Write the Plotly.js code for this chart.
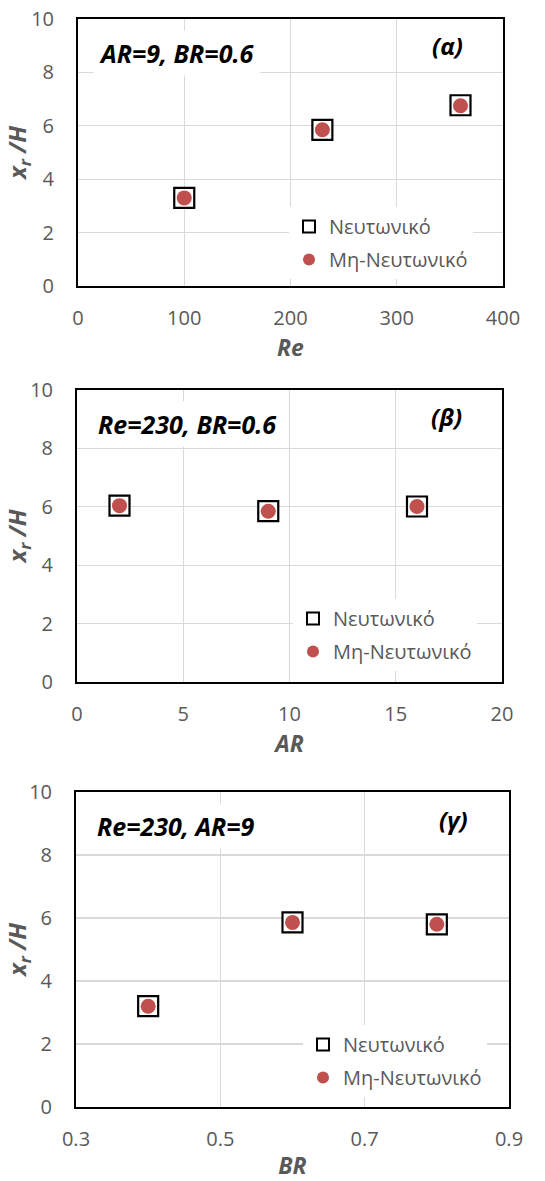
<!DOCTYPE html>
<html>
<head>
<meta charset="utf-8">
<script src="https://cdn.plot.ly/plotly-3.0.1.min.js"></script>
<style>html,body{margin:0;padding:0;background:#fff;}#chart{width:545px;height:1181px;}</style>
</head>
<body>
<div id="chart"></div>
<script>
// ---- data ----
const seriesNames = ["Νευτωνικό", "Μη-Νευτωνικό"];
const re = [100, 230, 360];
const xrReNewt = [3.3, 5.85, 6.77];
const xrReNonNewt = [3.3, 5.85, 6.75];
const ar = [2, 9, 16];
const xrArNewt = [6.04, 5.85, 6.01];
const xrArNonNewt = [6.04, 5.85, 6.01];
const br = [0.4, 0.6, 0.8];
const xrBrNewt = [3.2, 5.86, 5.8];
const xrBrNonNewt = [3.2, 5.86, 5.8];
const panelLabels = ["(α)", "(β)", "(γ)"];
const panelNotes = ["AR=9, BR=0.6", "Re=230, BR=0.6", "Re=230, AR=9"];
const xTitles = ["Re", "AR", "BR"];
const yTitle = "x<sub>r</sub> /H";

// ---- styles ----
const W = 545, H = 1181;
const FONT = "Open Sans, Noto Sans, DejaVu Sans, sans-serif";
const GREY = "#595959";
const RED = "#C0504D";
const px = v => v / W;
const py = v => 1 - v / H;

const panels = [
  {x: re, yN: xrReNewt, yM: xrReNonNewt, xr: [0, 400], dtick: 100, fmt: "",
   dom: [78, 503, 19, 286], leg: [289, 207]},
  {x: ar, yN: xrArNewt, yM: xrArNonNewt, xr: [0, 20], dtick: 5, fmt: "",
   dom: [77, 502, 390, 682], leg: [293, 599]},
  {x: br, yN: xrBrNewt, yM: xrBrNonNewt, xr: [0.3, 0.9], dtick: 0.2, fmt: ".1f",
   dom: [76, 509, 792, 1107], leg: [303, 1025]}
];

const traces = [];
const layout = {
  width: W, height: H,
  margin: {l: 0, r: 0, t: 0, b: 0},
  paper_bgcolor: "#fff", plot_bgcolor: "#fff",
  showlegend: true,
  annotations: []
};

panels.forEach((p, i) => {
  const n = i + 1;
  const xa = n === 1 ? "x" : "x" + n;
  const ya = n === 1 ? "y" : "y" + n;
  const legName = n === 1 ? "legend" : "legend" + n;
  traces.push({
    type: "scatter", mode: "markers", x: p.x, y: p.yN, name: seriesNames[0],
    xaxis: xa, yaxis: ya, legend: legName, legendgroup: "n" + n,
    marker: {symbol: "square", size: 20, color: "#fff", line: {color: "#000", width: 2.2}},
    cliponaxis: false
  });
  traces.push({
    type: "scatter", mode: "markers", x: p.x, y: p.yM, name: seriesNames[1],
    xaxis: xa, yaxis: ya, legend: legName, legendgroup: "m" + n,
    marker: {symbol: "circle", size: 15, color: RED, line: {width: 0}},
    cliponaxis: false
  });
  const axisCommon = {
    showline: true, linecolor: "#000", linewidth: 2, mirror: true,
    showgrid: true, gridcolor: "#D9D9D9", gridwidth: 1.3,
    zeroline: false, ticks: "", fixedrange: true,
    tickfont: {family: FONT, size: 20, color: GREY}
  };
  layout["xaxis" + (n === 1 ? "" : n)] = Object.assign({}, axisCommon, {
    domain: [px(p.dom[0]), px(p.dom[1])], anchor: ya,
    range: p.xr, dtick: p.dtick, tick0: p.xr[0], tickformat: p.fmt,
    ticklabelstandoff: 13,
    title: {text: "<b><i>" + xTitles[i] + "</i></b>", standoff: 8,
            font: {family: FONT, size: 23, color: GREY}}
  });
  layout["yaxis" + (n === 1 ? "" : n)] = Object.assign({}, axisCommon, {
    domain: [py(p.dom[3]), py(p.dom[2])], anchor: xa,
    range: [0, 10], dtick: 2,
    ticklabelstandoff: 18,
    title: {text: "<b><i>" + yTitle + "</i></b>", standoff: 0,
            font: {family: FONT, size: 24, color: GREY}}
  });
  layout[legName] = {
    x: px(p.leg[0]), y: py(p.leg[1]), xanchor: "left", yanchor: "top",
    bgcolor: "#fff", borderwidth: 0,
    font: {family: FONT, size: 20, color: GREY},
    traceorder: "grouped", tracegroupgap: 4, itemsizing: "constant"
  };
  layout.annotations.push({
    xref: "paper", yref: "paper", x: px(p.dom[0] + 15), y: py(p.dom[2] + 34),
    xanchor: "left", yanchor: "middle", showarrow: false,
    text: "<b><i>" + panelNotes[i] + "</i></b>",
    font: {family: FONT, size: 25, color: "#000"},
    bgcolor: "#fff", borderpad: 5
  });
  layout.annotations.push({
    xref: "paper", yref: "paper", x: px(p.dom[1] - 56), y: py(p.dom[2] + 27),
    xanchor: "center", yanchor: "middle", showarrow: false,
    text: "<b><i>" + panelLabels[i] + "</i></b>",
    font: {family: FONT, size: 24, color: "#000"}
  });
});

Plotly.newPlot("chart", traces, layout, {staticPlot: true, displayModeBar: false});
</script>
</body>
</html>
